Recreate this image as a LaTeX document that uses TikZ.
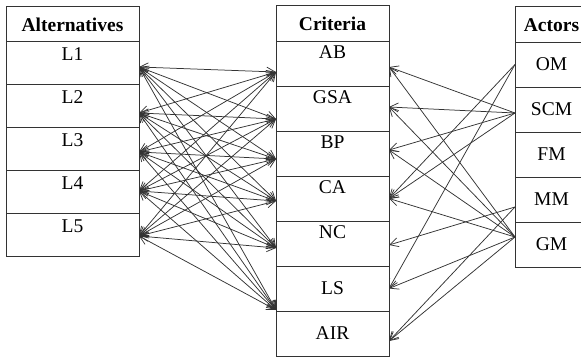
\documentclass[tikz,border=0pt]{standalone}
\usepackage{fontspec}
\setmainfont{Liberation Serif}
\usetikzlibrary{positioning,arrows.meta}

\tikzset{
  cell/.style={draw=black!80, line width=0.9pt, rectangle, outer sep=0pt, inner ysep=0pt,
    font=\fontsize{19.5}{22}\selectfont},
  head/.style={cell, font=\fontsize{19.5}{22}\selectfont\bfseries, text height=26pt, text depth=10pt},
  arow/.style={cell, minimum width=133pt, text height=19.5pt, text depth=23.5pt},
  crow/.style={cell, minimum width=113pt, text height=18pt, text depth=27pt},
  cmid/.style={cell, minimum width=113pt, minimum height=45pt},
  orow/.style={cell, minimum width=73pt, minimum height=45pt},
  link/.style={draw=black!80, line width=0.75pt,
    {Straight Barb[length=8.5pt,width=9pt]}-{Straight Barb[length=8.5pt,width=9pt]}},
  feed/.style={draw=black!80, line width=0.75pt, -{Straight Barb[length=8.5pt,width=9pt]}}
}

\begin{document}
\begin{tikzpicture}[x=1pt,y=-1pt]
    \useasboundingbox (0,0) rectangle (581,358);

    % alternatives
    \node[head, anchor=north west, minimum width=133pt, text depth=9pt] (alt) at (6,6) {Alternatives};
    \node[arow, below=0pt of alt] (L1) {L1};
    \node[arow, below=0pt of L1] (L2) {L2};
    \node[arow, below=0pt of L2] (L3) {L3};
    \node[arow, below=0pt of L3] (L4) {L4};
    \node[arow, below=0pt of L4] (L5) {L5};

    % criteria
    \node[head, anchor=north west, minimum width=113pt] (crit) at (276,5) {Criteria};
    \node[crow, below=0pt of crit] (AB) {AB};
    \node[crow, below=0pt of AB] (GSA) {GSA};
    \node[crow, below=0pt of GSA] (BP) {BP};
    \node[crow, below=0pt of BP] (CA) {CA};
    \node[crow, below=0pt of CA] (NC) {NC};
    \node[cmid, below=0pt of NC] (LS) {LS};
    \node[cmid, below=0pt of LS] (AIR) {AIR};

    % actors
    \node[head, anchor=north west, minimum width=73pt] (act) at (515,6) {Actors};
    \node[orow, below=0pt of act] (OM) {OM};
    \node[orow, below=0pt of OM] (SCM) {SCM};
    \node[orow, below=0pt of SCM] (FM) {FM};
    \node[orow, below=0pt of FM] (MM) {MM};
    \node[orow, below=0pt of MM] (GM) {GM};

    % every alternative against every criterion
    \foreach \a/\da in {L1/-4.5, L2/-7.5, L3/-3.5, L4/0.5, L5/-1.5}
      \foreach \c/\dc in {AB/-8.5, GSA/-10.5, BP/-5.5, CA/-2.5, NC/-4.5, LS/-21.5}
        \draw[link] ([yshift=\da pt]\a.east) -- ([yshift=\dc pt]\c.west);

    % actors to criteria
    \foreach \s/\ds/\t/\dt in {OM/0/CA/0, OM/0/LS/0,
        SCM/-3.5/AB/-3.5, SCM/-3.5/GSA/1.5, SCM/-3.5/BP/3.5, SCM/-3.5/CA/0,
        MM/-7.5/NC/-1.5, MM/-7.5/AIR/-7.5,
        GM/7.5/AB/-3.5, GM/7.5/GSA/1.5, GM/7.5/BP/3.5, GM/7.5/CA/0, GM/7.5/LS/0, GM/7.5/AIR/-7.5}
      \draw[feed] ([yshift=\ds pt]\s.west) -- ([yshift=\dt pt]\t.east);
\end{tikzpicture}
\end{document}
